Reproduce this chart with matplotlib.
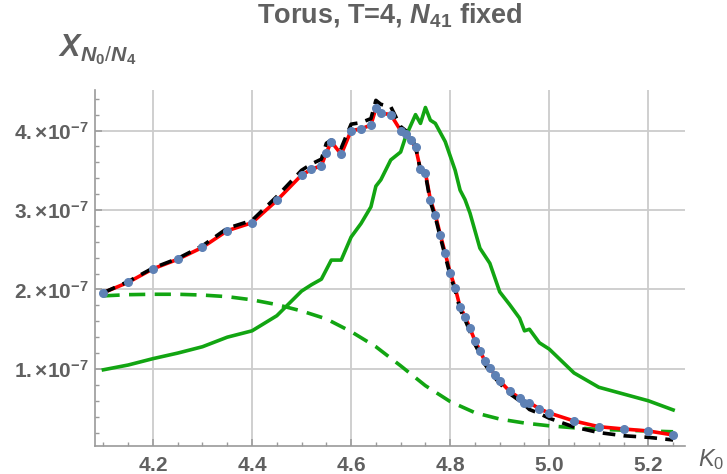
import numpy as np
import matplotlib
matplotlib.use('Agg')
import matplotlib.pyplot as plt
from matplotlib.ticker import MultipleLocator, FuncFormatter

plt.rcParams['font.family'] = ['Liberation Sans', 'DejaVu Sans']
plt.rcParams['mathtext.fontset'] = 'custom'
plt.rcParams['mathtext.rm'] = 'Liberation Sans'
plt.rcParams['mathtext.it'] = 'Liberation Sans:italic'
plt.rcParams['mathtext.bf'] = 'Liberation Sans:bold'
plt.rcParams['mathtext.bfit'] = 'Liberation Sans:bold:italic'

# values in units of 1e-7
k0_data = np.array([4.10, 4.15, 4.20, 4.25, 4.30, 4.35, 4.40, 4.45, 4.50, 4.52,
                    4.54, 4.55, 4.56, 4.58, 4.60, 4.62, 4.64, 4.65, 4.66, 4.68,
                    4.70, 4.71, 4.72, 4.73, 4.74, 4.75, 4.76, 4.77, 4.78, 4.79,
                    4.80, 4.81, 4.82, 4.83, 4.84, 4.85, 4.86, 4.87, 4.88, 4.89,
                    4.90, 4.92, 4.94, 4.95, 4.96, 4.98, 5.00, 5.05, 5.10, 5.15,
                    5.20, 5.25])
chi_data = np.array([1.96, 2.09, 2.26, 2.38, 2.53, 2.74, 2.84, 3.12, 3.44, 3.51,
                     3.56, 3.72, 3.86, 3.70, 4.00, 4.02, 4.07, 4.28, 4.22, 4.20,
                     4.00, 3.96, 3.88, 3.79, 3.51, 3.47, 3.13, 2.94, 2.69, 2.455,
                     2.21, 2.02, 1.78, 1.66, 1.51, 1.355, 1.23, 1.10, 1.01, 0.93,
                     0.85, 0.72, 0.635, 0.576, 0.576, 0.50, 0.446, 0.346, 0.274, 0.245,
                     0.22, 0.17])
chi_rew = np.array([1.96, 2.10, 2.27, 2.39, 2.55, 2.77, 2.87, 3.17, 3.50, 3.58,
                    3.64, 3.84, 3.88, 3.78, 4.08, 4.10, 4.15, 4.38, 4.33, 4.30,
                    4.05, 4.00, 3.93, 3.80, 3.50, 3.45, 3.10, 2.91, 2.66, 2.42,
                    2.18, 1.99, 1.75, 1.62, 1.47, 1.31, 1.19, 1.06, 0.97, 0.89,
                    0.82, 0.69, 0.60, 0.55, 0.49, 0.44, 0.38, 0.27, 0.20, 0.16,
                    0.14, 0.107])

k0_green = np.array([4.10, 4.15, 4.20, 4.25, 4.30, 4.35, 4.40, 4.45, 4.50, 4.52,
                     4.54, 4.56, 4.58, 4.60, 4.62, 4.64, 4.65, 4.66, 4.68, 4.70,
                     4.71, 4.73, 4.74, 4.75, 4.76, 4.77, 4.79, 4.81, 4.82, 4.83,
                     4.84, 4.86, 4.88, 4.90, 4.92, 4.94, 4.95, 4.96, 4.98, 5.00,
                     5.05, 5.10, 5.15, 5.20, 5.25])
chi_green = np.array([0.99, 1.05, 1.13, 1.20, 1.28, 1.40, 1.48, 1.67, 1.98, 2.06,
                      2.13, 2.37, 2.37, 2.66, 2.83, 3.04, 3.30, 3.38, 3.63, 3.73,
                      3.92, 4.20, 4.09, 4.29, 4.13, 4.09, 3.86, 3.50, 3.25, 3.13,
                      2.96, 2.52, 2.33, 1.97, 1.81, 1.64, 1.48, 1.50, 1.33, 1.25,
                      0.95, 0.77, 0.685, 0.60, 0.485])

k0_fit = np.array([4.10, 4.15, 4.20, 4.25, 4.30, 4.35, 4.40, 4.45, 4.50, 4.55,
                   4.60, 4.65, 4.70, 4.75, 4.80, 4.85, 4.90, 4.95, 5.00, 5.05,
                   5.10, 5.15, 5.20, 5.25])
chi_fit = np.array([1.92, 1.935, 1.94, 1.94, 1.93, 1.91, 1.87, 1.81, 1.73, 1.63,
                    1.47, 1.28, 1.04, 0.79, 0.59, 0.45, 0.37, 0.32, 0.285, 0.26,
                    0.24, 0.23, 0.22, 0.21])

scale = 1e-7
txt = '#606060'
green = '#12a512'

fig = plt.figure(figsize=(7.27, 4.74), dpi=100)
ax = fig.add_axes([95/727, 1-446/474, 590/727, 356/474])

ax.plot(k0_green, chi_green*scale, color=green, lw=2.6, zorder=3)
ax.plot(k0_fit, chi_fit*scale, color=green, lw=2.6, ls=(0, (4.5, 2.6)), zorder=3)
ax.plot(k0_data, chi_data*scale, color='red', lw=2.6, zorder=4)
ax.plot(k0_data, chi_rew*scale, color='black', lw=2.6, ls=(0, (3.5, 2.3)), zorder=5)
ax.plot(k0_data, chi_data*scale, 'o', color='#5e81b5', ms=5.5, zorder=6)

ax.set_xlim(4.083, 5.274)
ax.set_ylim(0.031*scale, 4.51*scale)

ax.xaxis.set_major_locator(MultipleLocator(0.2))
ax.xaxis.set_minor_locator(MultipleLocator(0.05))
ax.yaxis.set_major_locator(MultipleLocator(1e-7))
ax.yaxis.set_minor_locator(MultipleLocator(0.2e-7))
ax.xaxis.set_major_formatter(FuncFormatter(lambda v, p: r'$\mathbf{%.1f}$' % v))
ax.yaxis.set_major_formatter(FuncFormatter(
    lambda v, p: r'$\mathbf{%d.{\times}10^{-7}}$' % round(v/1e-7)))

ax.grid(True, which='major', color='#cccccc', lw=1.3)
for s in ['top', 'right']:
    ax.spines[s].set_visible(False)
for s in ['left', 'bottom']:
    ax.spines[s].set_color('#9a9a9a')
    ax.spines[s].set_linewidth(1.2)
ax.tick_params(which='both', direction='in', colors='#9a9a9a', labelcolor=txt,
               labelsize=15)
ax.tick_params(which='major', length=5, width=1.1)
ax.tick_params(which='minor', length=3, width=1.0)
ax.tick_params(axis='x', which='major', pad=7)
ax.tick_params(axis='y', which='major', pad=5)

fig.text(390/727, 1-15/474, r'Torus, T=4, $\mathbfit{N}_{\mathbf{41}}$ fixed',
         ha='center', va='center', fontsize=19.5, fontweight='bold', color=txt)
fig.text(58/727, 1-50/474,
         r'$\mathbfit{X}_{\mathbfit{N}_{\mathbf{0}}/\mathbfit{N}_{\mathbf{4}}}$',
         ha='left', va='center', fontsize=22, color=txt)
fig.text(698/727, 1-460/474, r'$\mathit{K}_0$',
         ha='left', va='center', fontsize=17, color=txt)

plt.savefig('out.png', dpi=100)
